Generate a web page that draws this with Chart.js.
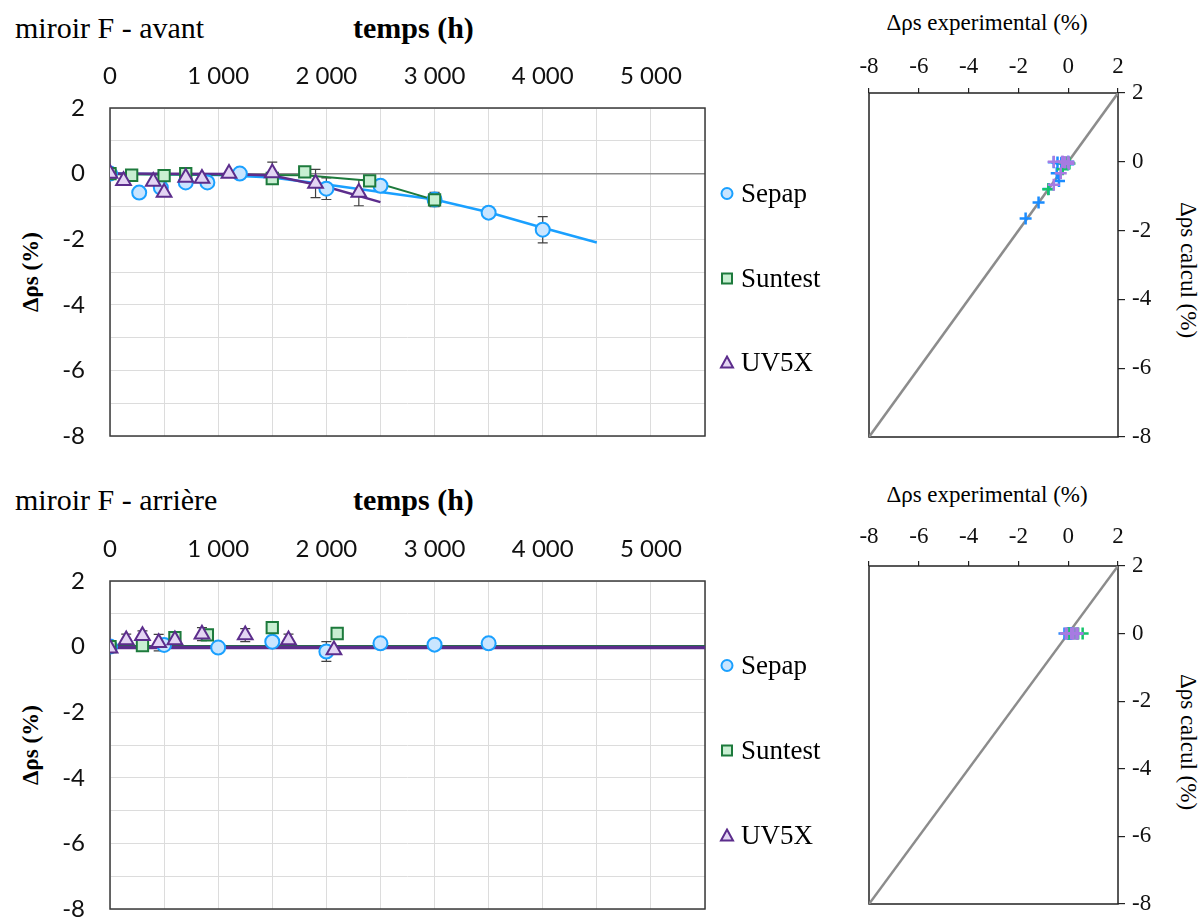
<!DOCTYPE html>
<html lang="fr">
<head>
<meta charset="utf-8">
<title>miroir F</title>
<script src="https://cdn.jsdelivr.net/npm/chart.js@4.4.0/dist/chart.umd.min.js"></script>
<style>
  html, body { margin: 0; padding: 0; width: 1204px; height: 917px; overflow: hidden; background: #fff; }
  canvas { position: absolute; }
  .txt { position: absolute; white-space: nowrap; font-family: 'Liberation Serif', serif; color: #000; line-height: 1; }
  .panel-title { font-size: 30px; }
  .axis-title { font-size: 30px; font-weight: bold; }
  .y-title { font-size: 23px; font-weight: bold; transform: translate(-50%, -50%) rotate(-90deg); }
  .exp-title { font-size: 23px; transform: translate(-50%, -50%); }
  .calc-title { font-size: 23px; transform: translate(-50%, -50%) rotate(90deg); }
  .legend { font-size: 27px; transform: translateY(-50%); display: flex; align-items: center; }
  .legend svg { margin-right: 6px; }
</style>
</head>
<body>

<div class="txt panel-title" style="left:15px; top:13px;">miroir F - avant</div>
<div class="txt axis-title" style="left:353px; top:13px;">temps (h)</div>
<div class="txt y-title" style="left:30px; top:272px;">Δρs (%)</div>
<canvas id="avantChart" width="720" height="410" style="left:0; top:40px;"></canvas>
<div class="txt exp-title" style="left:987px; top:22px;">Δρs experimental (%)</div>
<div class="txt calc-title" style="left:1188px; top:270px;">Δρs calcul (%)</div>
<canvas id="avantCalcChart" width="384" height="420" style="left:820px; top:40px;"></canvas>

<div class="txt panel-title" style="left:15px; top:485px;">miroir F - arrière</div>
<div class="txt axis-title" style="left:353px; top:485px;">temps (h)</div>
<div class="txt y-title" style="left:30px; top:745px;">Δρs (%)</div>
<canvas id="arriereChart" width="720" height="430" style="left:0; top:500px;"></canvas>
<div class="txt exp-title" style="left:987px; top:494px;">Δρs experimental (%)</div>
<div class="txt calc-title" style="left:1188px; top:742px;">Δρs calcul (%)</div>
<canvas id="arriereCalcChart" width="384" height="417" style="left:820px; top:500px;"></canvas>

<div id="legends"></div>

<script>
'use strict';

// ---- miroir F - avant : measurements ----
const sepapHoursAvant = [0, 270, 470, 700, 900, 1200, 2000, 2500, 3000, 3500, 4000];
const sepapAvant = [0, -0.58, -0.43, -0.27, -0.27, 0, -0.46, -0.37, -0.79, -1.19, -1.71];
const sepapAvantErr = [0, 0, 0, 0, 0, 0, 0.33, 0, 0.22, 0.15, 0.4];
const sepapAvantCalc = [0, -0.01, -0.02, -0.03, -0.05, -0.07, -0.33, -0.56, -0.79, -1.18, -1.65];

const suntestHoursAvant = [0, 200, 500, 700, 1500, 1800, 2400, 3000];
const suntestAvant = [0, -0.05, -0.06, 0, -0.15, 0.05, -0.22, -0.8];
const suntestAvantErr = [0, 0, 0, 0, 0, 0, 0.08, 0.2];
const suntestAvantCalc = [-0.02, -0.02, -0.03, -0.03, -0.04, -0.05, -0.22, -0.8];

const uv5xHoursAvant = [0, 125, 400, 500, 700, 850, 1100, 1500, 1900, 2300];
const uv5xAvant = [0, -0.22, -0.24, -0.58, -0.12, -0.15, 0, 0.02, -0.3, -0.58];
const uv5xAvantErr = [0, 0, 0, 0, 0, 0, 0, 0.33, 0.43, 0.4];
const uv5xAvantCalc = [0, 0, 0, 0, -0.01, -0.01, -0.01, -0.06, -0.33, -0.67];

// ---- miroir F - avant : model curves ----
const sepapModelHoursAvant = [0, 1000, 1500, 2000, 2500, 3000, 3500, 4000, 4500];
const sepapModelAvant = [0, -0.04, -0.12, -0.33, -0.56, -0.79, -1.18, -1.65, -2.1];
const suntestModelHoursAvant = [0, 1800, 2400, 3000];
const suntestModelAvant = [-0.02, -0.05, -0.22, -0.8];
const uv5xModelHoursAvant = [0, 1100, 1500, 2000, 2500];
const uv5xModelAvant = [0, -0.01, -0.06, -0.4, -0.87];

// ---- miroir F - arrière : measurements ----
const sepapHoursArr = [0, 500, 1000, 1500, 2000, 2500, 3000, 3500];
const sepapArr = [0, 0.05, -0.03, 0.15, -0.15, 0.1, 0.06, 0.1];
const sepapArrErr = [0, 0, 0, 0, 0.3, 0, 0, 0];
const sepapArrCalc = [0, 0, 0, 0, 0, 0, 0, 0];

const suntestHoursArr = [0, 300, 600, 900, 1500, 2100];
const suntestArr = [0, 0.03, 0.27, 0.36, 0.58, 0.4];
const suntestArrErr = [0, 0, 0, 0, 0, 0];
const suntestArrCalc = [0, 0, 0, 0, 0, 0];

const uv5xHoursArr = [0, 150, 300, 450, 600, 850, 1250, 1650, 2070];
const uv5xArr = [-0.05, 0.2, 0.33, 0.12, 0.2, 0.38, 0.35, 0.2, -0.1];
const uv5xArrErr = [0, 0.18, 0.15, 0.25, 0, 0.2, 0.2, 0.18, 0];
const uv5xArrCalc = [0, 0, 0, 0, 0, 0, 0, 0, 0];

// ---- miroir F - arrière : model curves (flat) ----
const modelHoursArr = [0, 5500];
const sepapModelArr = [0, 0];
const suntestModelArr = [0, 0];
const uv5xModelArr = [-0.03, -0.03];

// ---- axes ----
const hourTicks = [0, 1000, 2000, 3000, 4000, 5000];
const rhoTicks = [2, 0, -2, -4, -6, -8];
const diagonal = [-8, 2];

const SEPAP = { name: 'Sepap', line: '#1aa0ff', fill: '#c9e5ff', cross: '#1a8cff' };
const SUNTEST = { name: 'Suntest', line: '#1d7a3c', fill: '#c8efd2', cross: '#14c46a' };
const UV5X = { name: 'UV5X', line: '#5c2d8c', fill: '#e3d5f3', cross: '#a77be2' };

const SANS = "Lato, 'Liberation Sans', sans-serif";
const SERIF = "'Liberation Serif', serif";

function toPoints(xs, ys) {
  return xs.map((x, i) => ({ x, y: ys[i] }));
}

function formatHours(value) {
  if (!hourTicks.includes(value)) return '';
  return value === 0 ? '0' : `${value / 1000} 000`;
}

// fixed box sizes so the plot areas land where the original ones are
function fixHeight(h) {
  return (scale) => {
    scale.height = h;
    scale.paddingLeft = 0;
    scale.paddingRight = 0;
  };
}

function fixWidth(w) {
  return (scale) => {
    scale.width = w;
    scale.paddingTop = 0;
    scale.paddingBottom = 0;
  };
}

const framePlugin = {
  id: 'frame',
  beforeDatasetsDraw(chart, args, opts) {
    const { ctx, chartArea: a } = chart;
    ctx.save();
    ctx.strokeStyle = opts.color || '#3a3a3a';
    ctx.lineWidth = opts.width || 1.5;
    ctx.strokeRect(a.left, a.top, a.right - a.left, a.bottom - a.top);
    ctx.restore();
  },
};

const errorBarPlugin = {
  id: 'errorBars',
  beforeDatasetsDraw(chart) {
    const { ctx } = chart;
    const xs = chart.scales.x;
    const ys = chart.scales.y;
    ctx.save();
    ctx.strokeStyle = '#404040';
    ctx.lineWidth = 1.2;
    chart.data.datasets.forEach((ds) => {
      if (!ds.errors) return;
      ds.data.forEach((p, i) => {
        const err = ds.errors[i];
        if (!err) return;
        const px = xs.getPixelForValue(p.x);
        const top = ys.getPixelForValue(p.y + err);
        const bottom = ys.getPixelForValue(p.y - err);
        ctx.beginPath();
        ctx.moveTo(px, top);
        ctx.lineTo(px, bottom);
        ctx.moveTo(px - 5, top);
        ctx.lineTo(px + 5, top);
        ctx.moveTo(px - 5, bottom);
        ctx.lineTo(px + 5, bottom);
        ctx.stroke();
      });
    });
    ctx.restore();
  },
};

function markerSet(style, points, errors, pointStyle, radius, order) {
  return {
    label: style.name,
    data: points,
    errors,
    pointStyle,
    pointRadius: radius,
    pointBorderWidth: 2,
    pointBackgroundColor: style.fill,
    pointBorderColor: style.line,
    showLine: false,
    order,
  };
}

function modelLine(style, points, width) {
  return {
    label: `${style.name} modèle`,
    data: points,
    showLine: true,
    pointRadius: 0,
    borderColor: style.line,
    borderWidth: width,
    order: 10,
  };
}

function renderTimeChart(id, datasets, xHeight, padBottom) {
  return new Chart(document.getElementById(id), {
    type: 'scatter',
    data: { datasets },
    plugins: [framePlugin, errorBarPlugin],
    options: {
      responsive: false,
      animation: false,
      devicePixelRatio: 1,
      layout: { padding: { left: 0, top: 0, right: 15, bottom: padBottom } },
      plugins: { legend: { display: false }, tooltip: { enabled: false }, frame: { color: '#3a3a3a', width: 1.5 } },
      scales: {
        x: {
          type: 'linear',
          position: 'top',
          min: 0,
          max: 5500,
          afterFit: fixHeight(xHeight),
          border: { display: false },
          grid: { color: '#dcdcdc', lineWidth: 1, drawTicks: false },
          ticks: {
            stepSize: 500,
            autoSkip: false,
            maxRotation: 0,
            padding: 17,
            color: '#111',
            font: { family: SANS, size: 24 },
            callback: formatHours,
          },
        },
        y: {
          type: 'linear',
          min: -8,
          max: 2,
          afterFit: fixWidth(110),
          border: { display: false },
          grid: {
            drawTicks: false,
            color: (ctx) => (ctx.tick && ctx.tick.value === 0 ? '#8a8a8a' : '#dcdcdc'),
            lineWidth: (ctx) => (ctx.tick && ctx.tick.value === 0 ? 1.5 : 1),
          },
          ticks: {
            stepSize: 1,
            autoSkip: false,
            padding: 25,
            color: '#111',
            font: { family: SANS, size: 24 },
            callback: (v) => (rhoTicks.includes(v) ? String(v) : ''),
          },
        },
      },
    },
  });
}

function crossSet(style, xs, ys, order) {
  return {
    label: style.name,
    data: toPoints(xs, ys),
    pointStyle: 'cross',
    pointRadius: 6,
    pointBorderWidth: 2.5,
    pointBorderColor: style.cross,
    pointBackgroundColor: style.cross,
    showLine: false,
    order,
  };
}

function renderCalcChart(id, datasets, xHeight, labelPad, padBottom) {
  return new Chart(document.getElementById(id), {
    type: 'scatter',
    data: {
      datasets: [
        ...datasets,
        {
          label: 'y = x',
          data: toPoints(diagonal, diagonal),
          showLine: true,
          pointRadius: 0,
          borderColor: '#8c8c8c',
          borderWidth: 2.5,
          order: 10,
        },
      ],
    },
    plugins: [framePlugin],
    options: {
      responsive: false,
      animation: false,
      devicePixelRatio: 1,
      layout: { padding: { left: 49, top: 0, right: 0, bottom: padBottom } },
      plugins: { legend: { display: false }, tooltip: { enabled: false }, frame: { color: '#222', width: 1.5 } },
      scales: {
        x: {
          type: 'linear',
          position: 'top',
          min: -8,
          max: 2,
          afterFit: fixHeight(xHeight),
          border: { display: false },
          grid: { drawOnChartArea: false, tickLength: 5, color: '#222', lineWidth: 1.2 },
          ticks: {
            stepSize: 2,
            autoSkip: false,
            maxRotation: 0,
            padding: labelPad,
            color: '#111',
            font: { family: SERIF, size: 23 },
          },
        },
        y: {
          type: 'linear',
          position: 'right',
          min: -8,
          max: 2,
          afterFit: fixWidth(86),
          border: { display: false },
          grid: { drawOnChartArea: false, tickLength: 7, color: '#222', lineWidth: 1.2 },
          ticks: {
            stepSize: 2,
            autoSkip: false,
            padding: 7,
            color: '#111',
            font: { family: SERIF, size: 23 },
          },
        },
      },
    },
  });
}

renderTimeChart('avantChart', [
  markerSet(UV5X, toPoints(uv5xHoursAvant, uv5xAvant), uv5xAvantErr, 'triangle', 8.5, 1),
  markerSet(SUNTEST, toPoints(suntestHoursAvant, suntestAvant), suntestAvantErr, 'rect', 8, 2),
  markerSet(SEPAP, toPoints(sepapHoursAvant, sepapAvant), sepapAvantErr, 'circle', 7, 3),
  modelLine(UV5X, toPoints(uv5xModelHoursAvant, uv5xModelAvant), 2.5),
  modelLine(SUNTEST, toPoints(suntestModelHoursAvant, suntestModelAvant), 2),
  modelLine(SEPAP, toPoints(sepapModelHoursAvant, sepapModelAvant), 2.5),
], 68, 14);

renderTimeChart('arriereChart', [
  markerSet(UV5X, toPoints(uv5xHoursArr, uv5xArr), uv5xArrErr, 'triangle', 8.5, 1),
  markerSet(SUNTEST, toPoints(suntestHoursArr, suntestArr), suntestArrErr, 'rect', 8, 2),
  markerSet(SEPAP, toPoints(sepapHoursArr, sepapArr), sepapArrErr, 'circle', 7, 3),
  modelLine(UV5X, toPoints(modelHoursArr, uv5xModelArr), 3.5),
  modelLine(SUNTEST, toPoints(modelHoursArr, suntestModelArr), 3),
  modelLine(SEPAP, toPoints(modelHoursArr, sepapModelArr), 3),
], 81, 21);

renderCalcChart('avantCalcChart', [
  crossSet(UV5X, uv5xAvant, uv5xAvantCalc, 1),
  crossSet(SUNTEST, suntestAvant, suntestAvantCalc, 2),
  crossSet(SEPAP, sepapAvant, sepapAvantCalc, 3),
], 53, 7, 23);

renderCalcChart('arriereCalcChart', [
  crossSet(UV5X, uv5xArr, uv5xArrCalc, 1),
  crossSet(SUNTEST, suntestArr, suntestArrCalc, 2),
  crossSet(SEPAP, sepapArr, sepapArrCalc, 3),
], 66, 10, 13);

// legends beside the time charts
const legendRows = [
  { style: SEPAP, shape: 'circle' },
  { style: SUNTEST, shape: 'rect' },
  { style: UV5X, shape: 'triangle' },
];
const legendTops = [[193, 278, 362], [665, 750, 835]];

function legendIcon(style, shape) {
  let mark;
  if (shape === 'circle') {
    mark = `<circle cx="8" cy="8" r="5.5" fill="${style.fill}" stroke="${style.line}" stroke-width="2"/>`;
  } else if (shape === 'rect') {
    mark = `<rect x="3" y="3" width="10" height="10" fill="${style.fill}" stroke="${style.line}" stroke-width="2"/>`;
  } else {
    mark = `<polygon points="8,2 14,13 2,13" fill="${style.fill}" stroke="${style.line}" stroke-width="2"/>`;
  }
  return `<svg width="16" height="16" viewBox="0 0 16 16">${mark}</svg>`;
}

const legendsEl = document.getElementById('legends');
legendTops.forEach((tops) => {
  legendRows.forEach((row, i) => {
    const el = document.createElement('div');
    el.className = 'txt legend';
    el.style.left = '719px';
    el.style.top = `${tops[i]}px`;
    el.innerHTML = `${legendIcon(row.style, row.shape)}<span>${row.style.name}</span>`;
    legendsEl.appendChild(el);
  });
});
</script>
</body>
</html>
